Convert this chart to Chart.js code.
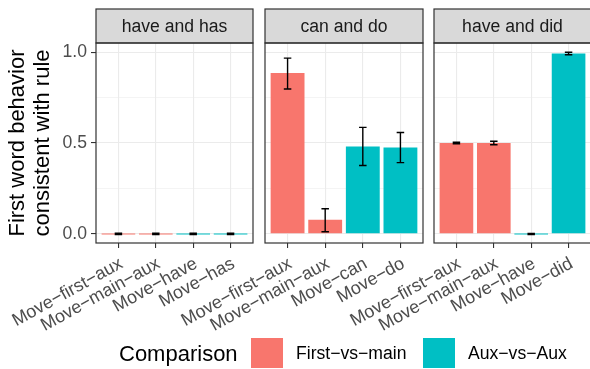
<!DOCTYPE html>
<html>
<head>
<meta charset="utf-8">
<script src="https://cdn.jsdelivr.net/npm/chart.js@4"></script>
<style>
  body { margin: 0; background: #fff; font-family: "Liberation Sans", Arial, sans-serif; }
  #wrap { position: relative; width: 590px; height: 369px; overflow: hidden; }
  #wrap canvas { position: absolute; left: 0; top: 0; }
  #legend { position: absolute; left: 0; top: 0; width: 590px; height: 369px; pointer-events: none; }
  #legend .t { position: absolute; white-space: nowrap; line-height: 1; }
  #legend .k { position: absolute; width: 32px; height: 30px; }
</style>
</head>
<body>
<div id="wrap">
  <canvas id="p0" width="600" height="369"></canvas>
  <canvas id="p1" width="600" height="369"></canvas>
  <canvas id="p2" width="600" height="369"></canvas>
  <div id="legend">
    <div class="t" style="left:119px; top:343px; font-size:22px; color:#000;">Comparison</div>
    <div class="k" style="left:251px; top:338px; background:#F8766D;"></div>
    <div class="t" style="left:296px; top:345px; font-size:17.6px; color:#000;">First−vs−main</div>
    <div class="k" style="left:423px; top:338px; background:#00BFC4;"></div>
    <div class="t" style="left:468px; top:345px; font-size:17.6px; color:#000;">Aux−vs−Aux</div>
  </div>
</div>
<script>
// facet titles
const panels = ['have and has', 'can and do', 'have and did'];

// x categories per facet
const categories = [
  ['Move−first−aux', 'Move−main−aux', 'Move−have', 'Move−has'],
  ['Move−first−aux', 'Move−main−aux', 'Move−can', 'Move−do'],
  ['Move−first−aux', 'Move−main−aux', 'Move−have', 'Move−did']
];

// fill group for each position
const groups = ['First−vs−main', 'First−vs−main', 'Aux−vs−Aux', 'Aux−vs−Aux'];

// mean proportion
const values = [
  [0, 0, 0, 0],
  [0.885, 0.078, 0.481, 0.475],
  [0.5, 0.5, 0, 0.992]
];

// error bar ends
const errLow = [
  [-0.004, -0.004, -0.004, -0.004],
  [0.797, 0.012, 0.376, 0.392],
  [0.496, 0.490, -0.003, 0.985]
];
const errHigh = [
  [0.004, 0.004, 0.004, 0.004],
  [0.967, 0.138, 0.586, 0.558],
  [0.504, 0.510, 0.003, 0.999]
];

const yTicks = [0, 0.25, 0.5, 0.75, 1];

const groupColors = { 'First−vs−main': '#F8766D', 'Aux−vs−Aux': '#00BFC4' };

// pixel frame of each panel (last one runs past the right edge)
const canvasW = 600;
const panelLeft = [96, 265, 434];
const panelRight = [253, 423, 591];
const panelTop = 43, panelBottom = 243, stripTop = 9;

Chart.defaults.font.family = '"Liberation Sans", Arial, sans-serif';

// strip, panel border and error bars
const facetPlugin = {
  id: 'facet',
  afterDatasetsDraw(chart, args, opts) {
    const ctx = chart.ctx;
    const x = chart.scales.x, y = chart.scales.y;
    ctx.save();
    ctx.strokeStyle = '#000';
    ctx.lineWidth = 1.4;
    opts.low.forEach((lo, i) => {
      const hi = opts.high[i];
      const cx = x.getPixelForValue(i + 1);
      const hw = x.getPixelForValue(i + 1.1) - cx;
      const yl = y.getPixelForValue(lo), yh = y.getPixelForValue(hi);
      ctx.beginPath();
      ctx.moveTo(cx, yl); ctx.lineTo(cx, yh);
      ctx.moveTo(cx - hw, yl); ctx.lineTo(cx + hw, yl);
      ctx.moveTo(cx - hw, yh); ctx.lineTo(cx + hw, yh);
      ctx.stroke();
    });
    ctx.restore();
  },
  afterDraw(chart, args, opts) {
    const ctx = chart.ctx;
    const a = chart.chartArea;
    ctx.save();
    ctx.strokeStyle = '#333333';
    ctx.lineWidth = 1.2;
    ctx.fillStyle = '#D9D9D9';
    ctx.fillRect(a.left, stripTop, a.right - a.left, a.top - stripTop);
    ctx.strokeRect(a.left, stripTop, a.right - a.left, a.top - stripTop);
    ctx.strokeRect(a.left, a.top, a.right - a.left, a.bottom - a.top);
    ctx.fillStyle = '#1A1A1A';
    ctx.font = '17.6px "Liberation Sans", Arial, sans-serif';
    ctx.textAlign = 'center';
    ctx.textBaseline = 'middle';
    ctx.fillText(opts.label, (a.left + a.right) / 2, (stripTop + a.top) / 2 + 1);
    ctx.restore();
  }
};

panels.forEach((label, k) => {
  const first = k === 0;
  new Chart(document.getElementById('p' + k), {
    type: 'bar',
    data: {
      datasets: [{
        data: values[k].map((v, i) => ({ x: i + 1, y: v })),
        backgroundColor: groups.map(g => groupColors[g]),
        borderWidth: 0,
        minBarLength: 1,
        barPercentage: 1,
        categoryPercentage: 0.9
      }]
    },
    options: {
      responsive: false,
      animation: false,
      devicePixelRatio: 1,
      layout: {
        padding: { left: first ? 0 : panelLeft[k], right: canvasW - panelRight[k], top: panelTop, bottom: 0 }
      },
      plugins: {
        legend: { display: false },
        tooltip: { enabled: false },
        facet: { label: label, low: errLow[k], high: errHigh[k] }
      },
      scales: {
        x: {
          type: 'linear',
          offset: false,
          min: 0.4,
          max: 4.6,
          afterBuildTicks(scale) { scale.ticks = categories[k].map((c, i) => ({ value: i + 1 })); },
          afterFit(scale) { scale.height = 369 - panelBottom; scale.paddingLeft = 0; scale.paddingRight = 0; },
          border: { display: false },
          grid: { offset: false, color: '#EBEBEB', lineWidth: 1.1, tickColor: '#333333', tickWidth: 1.1, tickLength: 5 },
          ticks: {
            autoSkip: false,
            minRotation: 29,
            maxRotation: 29,
            padding: 5,
            labelOffset: 3,
            color: '#4D4D4D',
            font: { size: 18 },
            callback: (v) => categories[k][Math.round(v) - 1]
          }
        },
        y: {
          min: -0.05,
          max: 1.05,
          afterBuildTicks(scale) { scale.ticks = yTicks.map(v => ({ value: v })); },
          afterFit(scale) { scale.width = first ? panelLeft[0] : 0; scale.paddingTop = 0; scale.paddingBottom = 0; },
          border: { display: false },
          grid: {
            color: '#EBEBEB',
            lineWidth: (c) => (c.tick && c.tick.value % 0.5 === 0) ? 1.1 : 0.55,
            drawTicks: first,
            tickLength: 5,
            tickWidth: 1.1,
            tickColor: (c) => (c.tick && c.tick.value % 0.5 === 0) ? '#333333' : 'rgba(0,0,0,0)'
          },
          ticks: {
            display: first,
            padding: 4,
            color: '#4D4D4D',
            font: { size: 17.6 },
            callback: (v) => (v % 0.5 === 0) ? v.toFixed(1) : ''
          },
          title: {
            display: first,
            text: ['First word behavior', 'consistent with rule'],
            color: '#000000',
            font: { size: 22, lineHeight: 1.11 },
            padding: { top: 6, bottom: 0 }
          }
        }
      }
    },
    plugins: [facetPlugin]
  });
});
</script>
</body>
</html>
